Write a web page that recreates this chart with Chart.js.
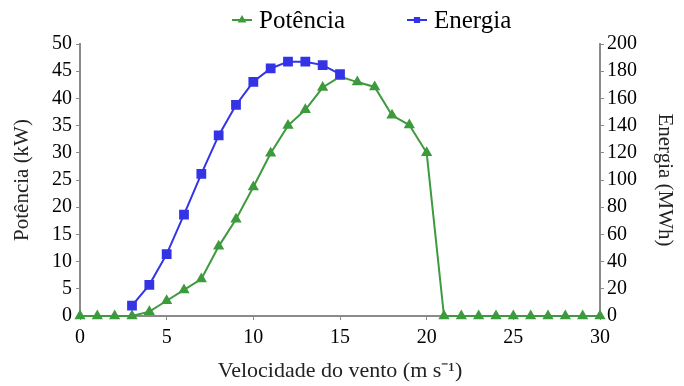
<!DOCTYPE html>
<html lang="pt">
<head>
  <meta charset="UTF-8">
  <title>Potência e Energia vs Velocidade do vento</title>
  <script src="https://cdn.jsdelivr.net/npm/chart.js"></script>
  <style>
    html, body { margin: 0; padding: 0; background: #fff; }
    canvas { display: block; }
  </style>
</head>
<body>
  <canvas id="windChart" width="684" height="386"></canvas>

  <script>
    // Wind speed (m/s) for the power curve
    const windSpeed = [0, 1, 2, 3, 4, 5, 6, 7, 8, 9, 10, 11, 12, 13, 14, 15,
                       16, 17, 18, 19, 20, 21, 22, 23, 24, 25, 26, 27, 28, 29, 30];
    // Potência (kW)
    const potencia = [0, 0, 0, 0, 0.8, 2.8, 4.8, 6.8, 12.8, 17.8, 23.7, 29.9, 35.0, 37.9, 42.0, 44.0,
                      43.0, 42.1, 36.9, 35.1, 30.0, 0, 0, 0, 0, 0, 0, 0, 0, 0, 0];
    // Energia (MWh) only given from 3 to 15 m/s
    const energiaSpeed = [3, 4, 5, 6, 7, 8, 9, 10, 11, 12, 13, 14, 15];
    const energia = [7.6, 22.9, 45.5, 74.5, 104.5, 132.8, 155.2, 172.2, 182, 187, 187, 184.5, 177.9];

    const xTicksStep = 5;
    const leftTicksStep = 5;
    const rightTicksStep = 20;

    const GREEN = '#3d9a3d';
    const BLUE = '#3434e6';
    const AXIS = '#8a8a8a';
    const SERIF = '"Liberation Serif", "Times New Roman", serif';

    // legend drawn by hand so it sits where the original one is
    const topLegend = {
      id: 'topLegend',
      afterDraw(chart) {
        const ctx = chart.ctx;
        const spots = [232, 407];
        ctx.save();
        chart.data.datasets.forEach((ds, i) => {
          const x = spots[i];
          ctx.strokeStyle = ds.borderColor;
          ctx.fillStyle = ds.pointBackgroundColor;
          ctx.lineWidth = 2;
          ctx.beginPath();
          ctx.moveTo(x, 20);
          ctx.lineTo(x + 20, 20);
          ctx.stroke();
          Chart.helpers.drawPoint(ctx, { pointStyle: ds.pointStyle, radius: 3, borderWidth: 1, rotation: 0 }, x + 10, 20);
          ctx.fillStyle = '#000';
          ctx.font = '25px ' + SERIF;
          ctx.textBaseline = 'alphabetic';
          ctx.textAlign = 'left';
          ctx.fillText(ds.label, x + 27, 28);
        });
        ctx.restore();
      }
    };

    const tickFont = { family: SERIF, size: 20 };
    const titleFont = { family: SERIF, size: 21 };

    new Chart(document.getElementById('windChart'), {
      type: 'line',
      data: {
        datasets: [
          {
            label: 'Potência',
            data: windSpeed.map((v, i) => ({ x: v, y: potencia[i] })),
            yAxisID: 'y',
            borderColor: GREEN,
            backgroundColor: GREEN,
            pointBackgroundColor: GREEN,
            pointBorderColor: GREEN,
            pointStyle: 'triangle',
            pointRadius: 4.5,
            borderWidth: 2,
            tension: 0,
            clip: false,
            order: 1
          },
          {
            label: 'Energia',
            data: energiaSpeed.map((v, i) => ({ x: v, y: energia[i] })),
            yAxisID: 'y1',
            borderColor: BLUE,
            backgroundColor: BLUE,
            pointBackgroundColor: BLUE,
            pointBorderColor: BLUE,
            pointStyle: 'rect',
            pointRadius: 5.5,
            borderWidth: 2,
            tension: 0,
            clip: false,
            order: 0
          }
        ]
      },
      options: {
        responsive: false,
        animation: false,
        layout: { padding: { top: 44, left: 0, right: 0, bottom: 0 } },
        plugins: {
          legend: { display: false },
          tooltip: { enabled: false }
        },
        scales: {
          x: {
            type: 'linear',
            min: 0,
            max: 30,
            ticks: { stepSize: xTicksStep, font: tickFont, color: '#000', padding: 6 },
            grid: { drawOnChartArea: false, tickLength: 4, color: AXIS },
            border: { color: AXIS, width: 2 },
            title: {
              display: true,
              text: 'Velocidade do vento (m s⁻¹)',
              font: { family: SERIF, size: 22 },
              color: '#222',
              padding: { top: 0, bottom: 2 }
            },
            afterFit: s => { s.height = 70; }
          },
          y: {
            position: 'left',
            min: 0,
            max: 50,
            ticks: { stepSize: leftTicksStep, font: tickFont, color: '#000', padding: 4 },
            grid: { drawOnChartArea: false, tickLength: 4, color: AXIS },
            border: { color: AXIS, width: 2 },
            title: {
              display: true,
              text: 'Potência (kW)',
              font: titleFont,
              color: '#222',
              padding: { top: 10, bottom: 0 }
            },
            afterFit: s => { s.width = 80; }
          },
          y1: {
            position: 'right',
            min: 0,
            max: 200,
            ticks: { stepSize: rightTicksStep, font: tickFont, color: '#000', padding: 3 },
            grid: { drawOnChartArea: false, tickLength: 4, color: AXIS },
            border: { color: AXIS, width: 2 },
            title: {
              display: true,
              text: 'Energia (MWh)',
              font: titleFont,
              color: '#222',
              padding: { top: 7, bottom: 0 }
            },
            afterFit: s => { s.width = 84; }
          }
        }
      },
      plugins: [topLegend]
    });
  </script>
</body>
</html>
